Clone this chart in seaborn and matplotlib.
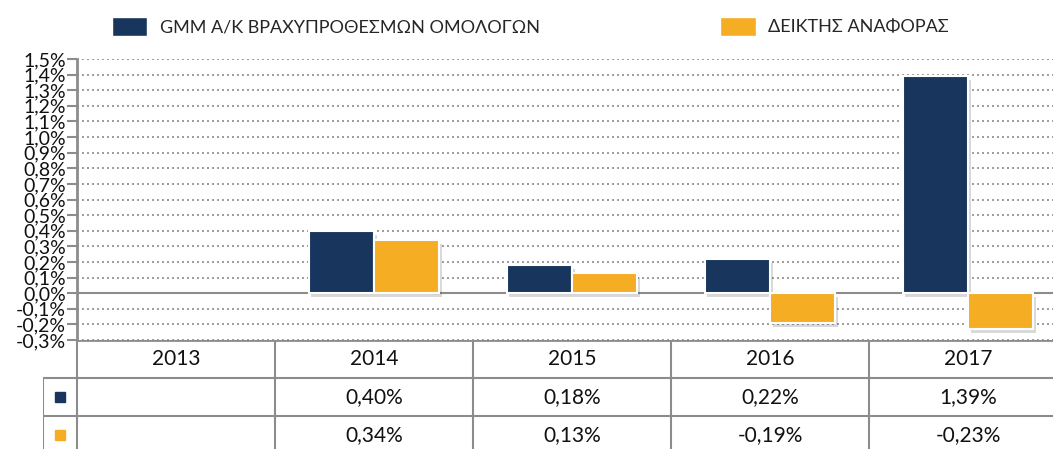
import matplotlib
matplotlib.use("Agg")
import matplotlib.pyplot as plt
import matplotlib.patheffects as pe
from matplotlib.patches import Patch
from matplotlib.ticker import FuncFormatter, MultipleLocator
import numpy as np
import pandas as pd
import seaborn as sns

years = ["2013", "2014", "2015", "2016", "2017"]
fund_name = "GMM Α/Κ ΒΡΑΧΥΠΡΟΘΕΣΜΩΝ ΟΜΟΛΟΓΩΝ"
bench_name = "ΔΕΙΚΤΗΣ ΑΝΑΦΟΡΑΣ"
fund_returns = [np.nan, 0.40, 0.18, 0.22, 1.39]
bench_returns = [np.nan, 0.34, 0.13, -0.19, -0.23]

navy = "#18365d"
gold = "#f5ae24"
grey = "#8c8c8c"

sns.set_style("white")
plt.rcParams["font.family"] = ["Lato", "DejaVu Sans"]

df = pd.DataFrame({
    "year": years * 2,
    "series": [fund_name] * len(years) + [bench_name] * len(years),
    "value": fund_returns + bench_returns,
})

W, H = 1053, 449
fig = plt.figure(figsize=(W / 100, H / 100), dpi=100)

# main plot area (right edge runs off the picture like the original)
ax = fig.add_axes([77 / W, (H - 340) / H, 990 / W, 281 / H])
sns.barplot(data=df, x="year", y="value", hue="series", order=years,
            hue_order=[fund_name, bench_name], palette=[navy, gold],
            saturation=1, width=0.66, ax=ax, legend=False, edgecolor="white",
            linewidth=1.5, zorder=3)
for p in ax.patches:
    p.set_path_effects([pe.SimplePatchShadow(offset=(2, -3), shadow_rgbFace="black", alpha=0.15),
                        pe.Normal()])

ax.set_xlim(-0.5, 4.5)
ax.set_ylim(-0.3, 1.5)
ax.yaxis.set_major_locator(MultipleLocator(0.1))
ax.yaxis.set_major_formatter(FuncFormatter(lambda v, _: f"{v:.1f}%".replace(".", ",").replace("-0,0", "0,0")))
ax.grid(axis="y", color=grey, linestyle=(0, (1.2, 1.8)), linewidth=1.2, zorder=0)
ax.axhline(0, color=grey, linewidth=1.5, zorder=2)
ax.set_xticks([])
ax.set_xlabel("")
ax.set_ylabel("")
for side in ["top", "right", "bottom"]:
    ax.spines[side].set_visible(False)
ax.spines["left"].set_color(grey)
ax.spines["left"].set_linewidth(2)
ax.tick_params(axis="y", direction="out", length=7, width=1.5, color=grey,
               labelsize=14, labelcolor="#111111", pad=1, left=True)

# data table below the plot
tab = fig.add_axes([43 / W, -5 / H, 1024 / W, 114 / H])
lead = 34 / 198
tab.set_xlim(-0.5 - lead, 4.5)
tab.set_ylim(3, 0)
tab.axis("off")
tab.hlines(0, -0.5, 4.5, color=grey, linewidth=2)
tab.hlines([1, 2], -0.5 - lead, 4.5, color=grey, linewidth=1.5)
tab.vlines(np.arange(-0.5, 5, 1.0), 0, 3, color=grey, linewidth=1.5)
tab.vlines(-0.5 - lead, 1, 3, color=grey, linewidth=1.5)


def fmt(v):
    return "" if np.isnan(v) else f"{v:.2f}%".replace(".", ",")


for i, y in enumerate(years):
    tab.text(i, 0.5, y, ha="center", va="center", fontsize=15, color="#111111")
    tab.text(i, 1.5, fmt(fund_returns[i]), ha="center", va="center", fontsize=15, color="#111111")
    tab.text(i, 2.5, fmt(bench_returns[i]), ha="center", va="center", fontsize=15, color="#111111")
tab.plot(-0.5 - lead / 2, 1.5, marker="s", markersize=7.5, color=navy, linestyle="none")
tab.plot(-0.5 - lead / 2, 2.5, marker="s", markersize=7.5, color=gold, linestyle="none")

handles = [Patch(facecolor=navy, label=fund_name), Patch(facecolor=gold, label=bench_name)]
fig.legend(handles=handles, loc="center left", bbox_to_anchor=(112 / W, 1 - 26.5 / H),
           ncol=2, frameon=False, fontsize=13, handlelength=1.95, handleheight=1.28,
           handletextpad=0.7, columnspacing=10, borderpad=0, borderaxespad=0)

plt.savefig("out.png", dpi=100)
